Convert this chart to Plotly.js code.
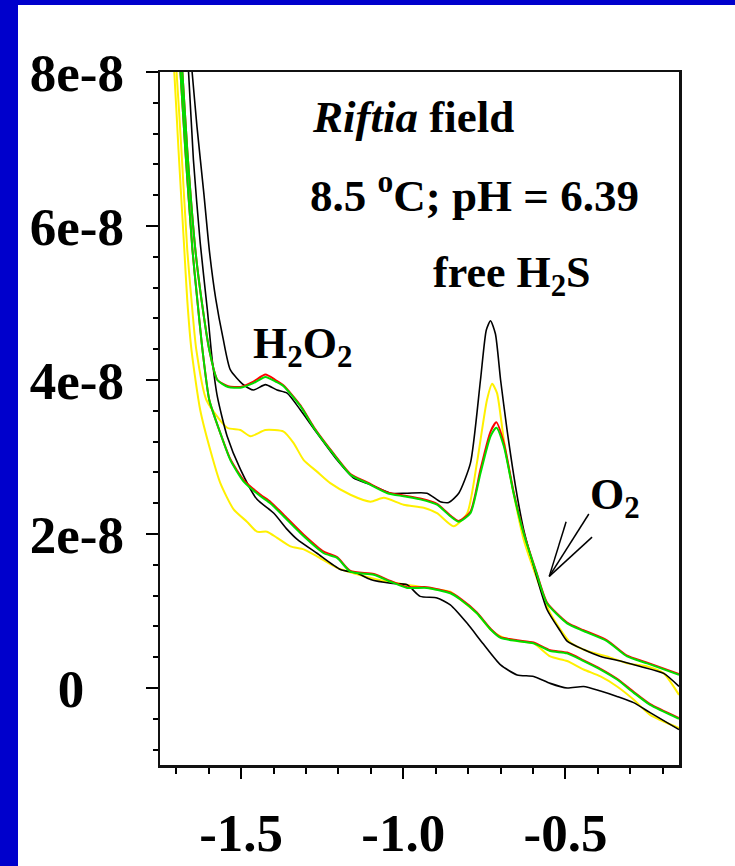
<!DOCTYPE html>
<html>
<head>
<meta charset="utf-8">
<script src="https://cdn.plot.ly/plotly-3.0.1.min.js"></script>
<style>
html,body{margin:0;padding:0;background:#0000CC;width:735px;height:866px;overflow:hidden;}
#chart{position:absolute;left:18px;top:5px;width:717px;height:861px;background:#fff;}
</style>
</head>
<body>
<div id="chart"></div>
<script>
// Potential (V) and current (units of 1e-8 A)
var blackUpX = [-1.658,-1.651,-1.636,-1.615,-1.597,-1.578,-1.556,-1.533,-1.493,-1.462,-1.425,-1.389,-1.358,-1.317,-1.266,-1.204,-1.154,-1.101,-1.039,-0.988,-0.927,-0.886,-0.860,-0.829,-0.793,-0.762,-0.744,-0.731,-0.716,-0.700,-0.680,-0.654,-0.629,-0.598,-0.557,-0.516,-0.495,-0.444,-0.392,-0.331,-0.269,-0.197,-0.150];
var blackUpY = [8.3,8.0,7.29,6.43,5.65,5.05,4.55,4.13,3.94,3.87,3.94,3.87,3.83,3.61,3.31,2.96,2.73,2.64,2.53,2.53,2.53,2.42,2.41,2.53,2.92,4.00,4.65,4.77,4.60,4.00,3.35,2.62,2.06,1.58,1.02,0.74,0.61,0.50,0.41,0.35,0.28,0.19,0.02];
var blackLoX = [-1.668,-1.662,-1.647,-1.626,-1.604,-1.589,-1.573,-1.543,-1.502,-1.451,-1.399,-1.358,-1.327,-1.266,-1.194,-1.142,-1.101,-1.039,-0.988,-0.948,-0.896,-0.855,-0.803,-0.753,-0.700,-0.649,-0.598,-0.547,-0.495,-0.444,-0.392,-0.341,-0.290,-0.239,-0.150];
var blackLoY = [8.3,8.0,6.86,5.78,4.91,4.26,3.78,3.27,2.84,2.45,2.27,2.06,1.93,1.75,1.54,1.49,1.41,1.36,1.34,1.19,1.17,1.08,0.84,0.57,0.30,0.17,0.15,0.06,0.00,0.02,-0.04,-0.11,-0.19,-0.32,-0.54];

var greenUpX = [-1.687,-1.681,-1.666,-1.641,-1.622,-1.598,-1.573,-1.540,-1.502,-1.462,-1.425,-1.394,-1.369,-1.317,-1.276,-1.225,-1.163,-1.111,-1.049,-0.999,-0.948,-0.896,-0.855,-0.829,-0.793,-0.762,-0.731,-0.713,-0.690,-0.660,-0.629,-0.590,-0.557,-0.495,-0.444,-0.372,-0.310,-0.248,-0.150];
var greenUpY = [8.3,8.0,6.99,5.69,5.04,4.39,4.00,3.91,3.90,3.96,4.04,3.98,3.92,3.66,3.38,3.09,2.77,2.66,2.53,2.49,2.45,2.38,2.23,2.16,2.27,2.79,3.27,3.38,3.14,2.53,2.01,1.50,1.10,0.84,0.74,0.61,0.41,0.32,0.17];
var greenLoX = [-1.693,-1.687,-1.672,-1.650,-1.635,-1.619,-1.598,-1.564,-1.533,-1.492,-1.440,-1.410,-1.369,-1.307,-1.245,-1.204,-1.163,-1.091,-1.039,-0.988,-0.927,-0.855,-0.824,-0.773,-0.731,-0.700,-0.649,-0.598,-0.547,-0.495,-0.444,-0.392,-0.341,-0.290,-0.239,-0.150];
var greenLoY = [8.3,8.0,6.99,5.69,5.04,4.39,3.74,3.31,2.96,2.68,2.49,2.40,2.23,1.97,1.75,1.69,1.51,1.47,1.38,1.30,1.30,1.23,1.15,0.97,0.76,0.65,0.61,0.58,0.48,0.45,0.35,0.24,0.11,-0.06,-0.22,-0.40];
var redUpY = [8.3,8.0,6.99,5.69,5.04,4.39,4.00,3.92,3.91,3.98,4.07,4.00,3.93,3.67,3.39,3.10,2.78,2.67,2.54,2.50,2.46,2.39,2.24,2.17,2.29,2.84,3.33,3.45,3.18,2.55,2.02,1.51,1.11,0.85,0.75,0.62,0.42,0.33,0.18];
var redLoY = [8.3,8.0,6.99,5.69,5.04,4.39,3.74,3.31,2.97,2.70,2.51,2.42,2.25,1.99,1.77,1.70,1.52,1.48,1.39,1.31,1.31,1.24,1.16,0.98,0.77,0.66,0.62,0.59,0.49,0.46,0.36,0.25,0.12,-0.05,-0.21,-0.39];

var yellowUpX = [-1.706,-1.699,-1.684,-1.666,-1.653,-1.638,-1.607,-1.543,-1.502,-1.471,-1.425,-1.369,-1.338,-1.307,-1.266,-1.225,-1.163,-1.101,-1.060,-0.999,-0.937,-0.896,-0.845,-0.803,-0.773,-0.742,-0.726,-0.711,-0.690,-0.660,-0.629,-0.587,-0.547,-0.485,-0.433,-0.372,-0.310,-0.248,-0.197,-0.150];
var yellowUpY = [8.3,8.0,6.99,5.69,5.04,4.39,3.74,3.38,3.35,3.27,3.35,3.33,3.18,2.96,2.81,2.66,2.51,2.42,2.47,2.38,2.34,2.27,2.10,2.27,2.92,3.74,3.95,3.83,3.22,2.53,1.93,1.41,0.97,0.59,0.48,0.41,0.32,0.28,0.19,-0.09];
var yellowLoX = [-1.712,-1.706,-1.693,-1.675,-1.666,-1.653,-1.626,-1.595,-1.564,-1.523,-1.482,-1.451,-1.420,-1.389,-1.348,-1.307,-1.266,-1.204,-1.153,-1.081,-1.019,-0.958,-0.896,-0.855,-0.824,-0.773,-0.731,-0.700,-0.649,-0.598,-0.547,-0.495,-0.444,-0.392,-0.341,-0.290,-0.239,-0.150];
var yellowLoY = [8.3,8.0,6.99,5.69,5.04,4.39,3.61,3.09,2.66,2.32,2.16,2.03,2.03,1.95,1.84,1.80,1.71,1.56,1.49,1.41,1.36,1.32,1.28,1.25,1.15,0.97,0.76,0.67,0.61,0.58,0.41,0.35,0.24,0.15,0.02,-0.15,-0.35,-0.52];

var xTickVals = [-1.5, -1.0, -0.5];
var xTickText = ['-1.5', '-1.0', '-0.5'];
var yTickVals = [0, 2, 4, 6, 8];
var yTickText = ['0\u00a0\u00a0\u00a0', '2e-8', '4e-8', '6e-8', '8e-8'];

// O2 pointer lines: tip and three ends
var arrowTip = [-0.550, 1.45];
var arrowEnds = [[-0.498, 2.16], [-0.428, 2.26], [-0.418, 1.96]];

var FONT = 'Liberation Serif, Times New Roman, serif';

function tr(x, y, color, w) {
  return {x: x, y: y, type: 'scatter', mode: 'lines',
    line: {color: color, width: w, shape: 'spline', smoothing: 0.6},
    hoverinfo: 'skip', showlegend: false, cliponaxis: true};
}

var data = [
  tr(yellowUpX, yellowUpY, '#FFF000', 2),
  tr(yellowLoX, yellowLoY, '#FFF000', 2),
  tr(blackUpX, blackUpY, '#000000', 1.6),
  tr(blackLoX, blackLoY, '#000000', 1.6),
  tr(greenUpX, redUpY, '#FF0000', 2),
  tr(greenLoX, redLoY, '#FF0000', 2),
  tr(greenUpX, greenUpY, '#00DD00', 2),
  tr(greenLoX, greenLoY, '#00DD00', 2)
];

var shapes = arrowEnds.map(function(e) {
  return {type: 'line', xref: 'x', yref: 'y', x0: arrowTip[0], y0: arrowTip[1], x1: e[0], y1: e[1],
    line: {color: '#000', width: 1.5}};
});

function ann(text, x, y, size) {
  return {text: text, x: x, y: y, xref: 'x', yref: 'y', showarrow: false,
    xanchor: 'center', yanchor: 'middle', font: {family: FONT, size: size, color: '#000'}};
}

var annotations = [
  ann('<b><i>Riftia</i> field</b>', -0.971, 7.41, 45),
  ann('<b>8.5 <sup>o</sup>C; pH = 6.39</b>', -0.779, 6.43, 45),
  ann('<b>free H<sub>2</sub>S</b>', -0.665, 5.36, 44),
  ann('<b>H<sub>2</sub>O<sub>2</sub></b>', -1.312, 4.44, 44),
  ann('<b>O<sub>2</sub></b>', -0.346, 2.47, 44)
];

var layout = {
  width: 717, height: 861,
  margin: {l: 141.6, r: 56.4, t: 67, b: 101, pad: 0},
  paper_bgcolor: '#ffffff', plot_bgcolor: '#ffffff',
  showlegend: false, hovermode: false,
  font: {family: FONT, color: '#000'},
  xaxis: {range: [-1.75, -0.15], tickmode: 'array', tickvals: xTickVals, ticktext: xTickText,
    ticks: 'outside', ticklen: 11, tickwidth: 2, tickcolor: '#000',
    minor: {tickmode: 'linear', tick0: 0, dtick: 0.1, ticks: 'outside', ticklen: 6, tickwidth: 2, tickcolor: '#000', showgrid: false},
    showline: true, linecolor: '#111', linewidth: 2.5, mirror: true,
    showgrid: false, zeroline: false, ticklabelstandoff: 9,
    tickfont: {family: FONT, size: 53, color: '#000', weight: 'bold'}},
  yaxis: {range: [-1, 8], tickmode: 'array', tickvals: yTickVals, ticktext: yTickText,
    ticks: 'outside', ticklen: 12, tickwidth: 2, tickcolor: '#000',
    minor: {tickmode: 'linear', tick0: 0, dtick: 0.4, ticks: 'outside', ticklen: 5, tickwidth: 2, tickcolor: '#000', showgrid: false},
    showline: true, linecolor: '#111', linewidth: 2.5, mirror: true,
    showgrid: false, zeroline: false, ticklabelstandoff: 11,
    tickfont: {family: FONT, size: 53, color: '#000', weight: 'bold'}},
  shapes: shapes,
  annotations: annotations
};

Plotly.newPlot('chart', data, layout, {staticPlot: true, displayModeBar: false});
</script>
</body>
</html>
